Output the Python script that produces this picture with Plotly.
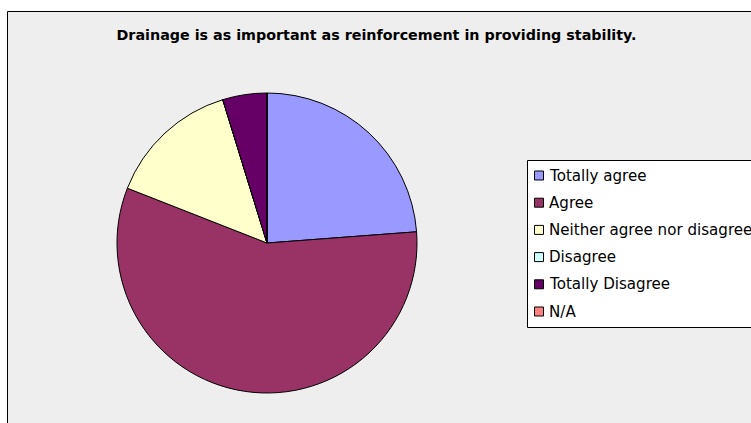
import plotly.graph_objects as go

title = "Drainage is as important as reinforcement in providing stability."
labels = ["Totally agree", "Agree", "Neither agree nor disagree", "Disagree", "Totally Disagree", "N/A"]
values = [5, 12, 3, 0, 1, 0]
colors = ["#9999FF", "#993366", "#FFFFCC", "#CCFFFF", "#660066", "#FF8080"]

W, H = 751, 423


def px(x):
    return x / W


def py(y):
    return 1 - y / H


fig = go.Figure(go.Pie(
    labels=labels, values=values, sort=False, direction="clockwise", rotation=0,
    marker=dict(colors=colors, line=dict(color="black", width=1)),
    textinfo="none", hoverinfo="label+value+percent",
    domain=dict(x=[px(117), px(417)], y=[py(393), py(93)]),
    showlegend=False,
))

# chart area frame
fig.add_shape(type="rect", xref="paper", yref="paper",
              x0=px(7.5), x1=1.05, y0=-0.05, y1=py(11.5),
              fillcolor="#EEEEEE", line=dict(color="black", width=1), layer="below")

# legend box and entries
fig.add_shape(type="rect", xref="paper", yref="paper",
              x0=px(527.5), x1=1.05, y0=py(327.5), y1=py(160.5),
              fillcolor="white", line=dict(color="black", width=1), layer="above")
y_first, step = 175.5, 27.2
for i, (lab, col) in enumerate(zip(labels, colors)):
    yc = y_first + i * step
    fig.add_shape(type="rect", xref="paper", yref="paper",
                  x0=px(534.5), x1=px(543.5), y0=py(yc + 4.5), y1=py(yc - 4.5),
                  fillcolor=col, line=dict(color="black", width=1), layer="above")
    fig.add_annotation(text=lab, xref="paper", yref="paper", x=px(547), y=py(yc),
                       xanchor="left", yanchor="middle", showarrow=False,
                       font=dict(size=15.1, family="DejaVu Sans", color="black"))

fig.update_layout(
    width=W, height=H,
    margin=dict(l=0, r=0, t=0, b=0),
    paper_bgcolor="white", plot_bgcolor="white",
    font=dict(family="DejaVu Sans", color="black"),
    title=dict(text="<b>" + title + "</b>", x=px(376.5), xanchor="center",
               y=py(35), yanchor="middle", font=dict(size=14.3, family="DejaVu Sans")),
    showlegend=False,
)

fig.write_html("out.html", config={"displayModeBar": False},
               post_script="document.body.style.margin='0';document.body.style.overflow='hidden';")
